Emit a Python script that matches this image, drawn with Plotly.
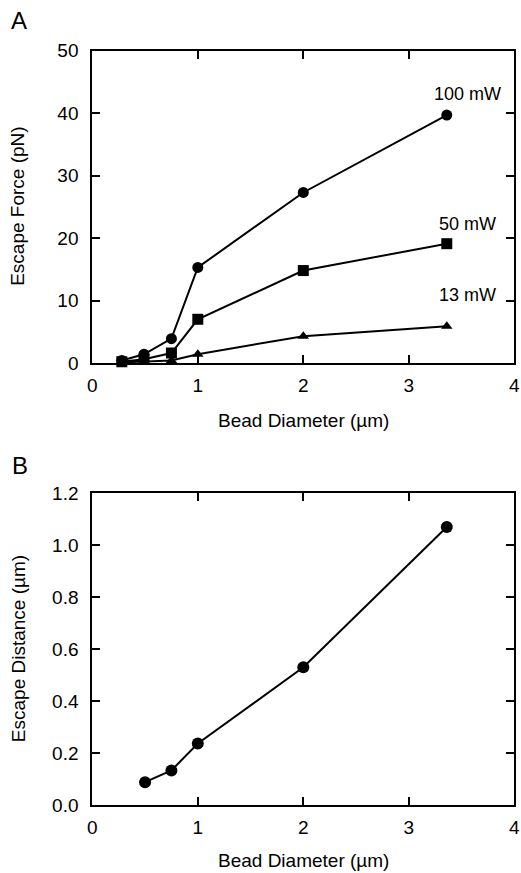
import plotly.graph_objects as go

# Panel A data
diam_a = [0.28, 0.49, 0.75, 1.0, 2.0, 3.36]
force_100 = [0.4, 1.4, 3.9, 15.3, 27.3, 39.7]
force_50 = [0.2, 0.6, 1.6, 7.0, 14.8, 19.1]
force_13 = [0.1, 0.2, 0.4, 1.4, 4.3, 5.9]
series_labels = ["100 mW", "50 mW", "13 mW"]

# Panel B data
diam_b = [0.5, 0.75, 1.0, 2.0, 3.36]
escape_dist = [0.088, 0.133, 0.237, 0.53, 1.07]

xticks = [0, 1, 2, 3, 4]
yticks_a = [0, 10, 20, 30, 40, 50]
yticks_b = [0.0, 0.2, 0.4, 0.6, 0.8, 1.0, 1.2]

FONT = "Liberation Sans, Arial, Helvetica, sans-serif"
W, H = 521, 873

fig = go.Figure()
line = dict(color="black", width=2)
fig.add_trace(go.Scatter(x=diam_a, y=force_100, mode="lines+markers", line=line,
                         marker=dict(symbol="circle", size=11, color="black"),
                         xaxis="x", yaxis="y", cliponaxis=False))
fig.add_trace(go.Scatter(x=diam_a, y=force_50, mode="lines+markers", line=line,
                         marker=dict(symbol="square", size=11, color="black"),
                         xaxis="x", yaxis="y", cliponaxis=False))
fig.add_trace(go.Scatter(x=diam_a, y=force_13, mode="lines+markers", line=line,
                         marker=dict(symbol="triangle-up", size=10, color="black"),
                         xaxis="x", yaxis="y", cliponaxis=False))
fig.add_trace(go.Scatter(x=diam_b, y=escape_dist, mode="lines+markers", line=line,
                         marker=dict(symbol="circle", size=12, color="black"),
                         xaxis="x2", yaxis="y2", cliponaxis=False))

x0, x1 = 92.3 / W, 514.3 / W
ya = [(H - 363) / H, (H - 50.7) / H]
yb = [(H - 805) / H, (H - 493.3) / H]

axis_common = dict(showline=True, linecolor="black", linewidth=2, mirror="ticks",
                   ticks="inside", ticklen=8, tickwidth=1.5, tickcolor="black",
                   showgrid=False, zeroline=False, automargin=False,
                   tickfont=dict(family=FONT, size=19, color="black"))

fig.update_layout(
    template="none",
    width=W, height=H, margin=dict(l=0, r=0, t=0, b=0, autoexpand=False),
    plot_bgcolor="white", paper_bgcolor="white", showlegend=False,
    xaxis=dict(domain=[x0, x1], range=[0, 4], tickvals=xticks, anchor="y",
               ticklabelstandoff=4, **axis_common),
    yaxis=dict(domain=ya, range=[0, 50], tickvals=yticks_a, anchor="x",
               ticklabelstandoff=8, **axis_common),
    xaxis2=dict(domain=[x0, x1], range=[0, 4], tickvals=xticks, anchor="y2",
                ticklabelstandoff=4, **axis_common),
    yaxis2=dict(domain=yb, range=[0, 1.2], tickvals=yticks_b, tickformat=".1f", anchor="x2",
                ticklabelstandoff=8, **axis_common),
)

tfont = dict(family=FONT, size=19, color="black")
lfont = dict(family=FONT, size=18, color="black")
xc = (x0 + x1) / 2
# axis titles
fig.add_annotation(x=xc, y=1 - 420 / H, xref="paper", yref="paper", text="Bead Diameter (µm)",
                   showarrow=False, xanchor="center", yanchor="middle", font=tfont)
fig.add_annotation(x=xc, y=1 - 860 / H, xref="paper", yref="paper", text="Bead Diameter (µm)",
                   showarrow=False, xanchor="center", yanchor="middle", font=tfont)
fig.add_annotation(x=18 / W, y=sum(ya) / 2, xref="paper", yref="paper", text="Escape Force (pN)",
                   showarrow=False, xanchor="center", yanchor="middle", textangle=-90, font=tfont)
fig.add_annotation(x=18 / W, y=sum(yb) / 2, xref="paper", yref="paper", text="Escape Distance (µm)",
                   showarrow=False, xanchor="center", yanchor="middle", textangle=-90, font=tfont)

# series labels
label_pos = [(3.36, force_100[-1]), (3.36, force_50[-1]), (3.36, force_13[-1])]
label_dy = [21, 20, 31]
for txt, (xv, yv), dy in zip(series_labels, label_pos, label_dy):
    fig.add_annotation(x=xv, y=yv, xref="x", yref="y", text=txt, showarrow=False,
                       xanchor="center", yanchor="middle", yshift=dy, xshift=21,
                       font=lfont)

# panel letters
fig.add_annotation(x=9 / W, y=1 - 20 / H, xref="paper", yref="paper", text="A",
                   showarrow=False, xanchor="left", yanchor="middle",
                   font=dict(family=FONT, size=24, color="black"))
fig.add_annotation(x=10 / W, y=1 - 465 / H, xref="paper", yref="paper", text="B",
                   showarrow=False, xanchor="left", yanchor="middle",
                   font=dict(family=FONT, size=24, color="black"))

fig.write_html("out.html")
